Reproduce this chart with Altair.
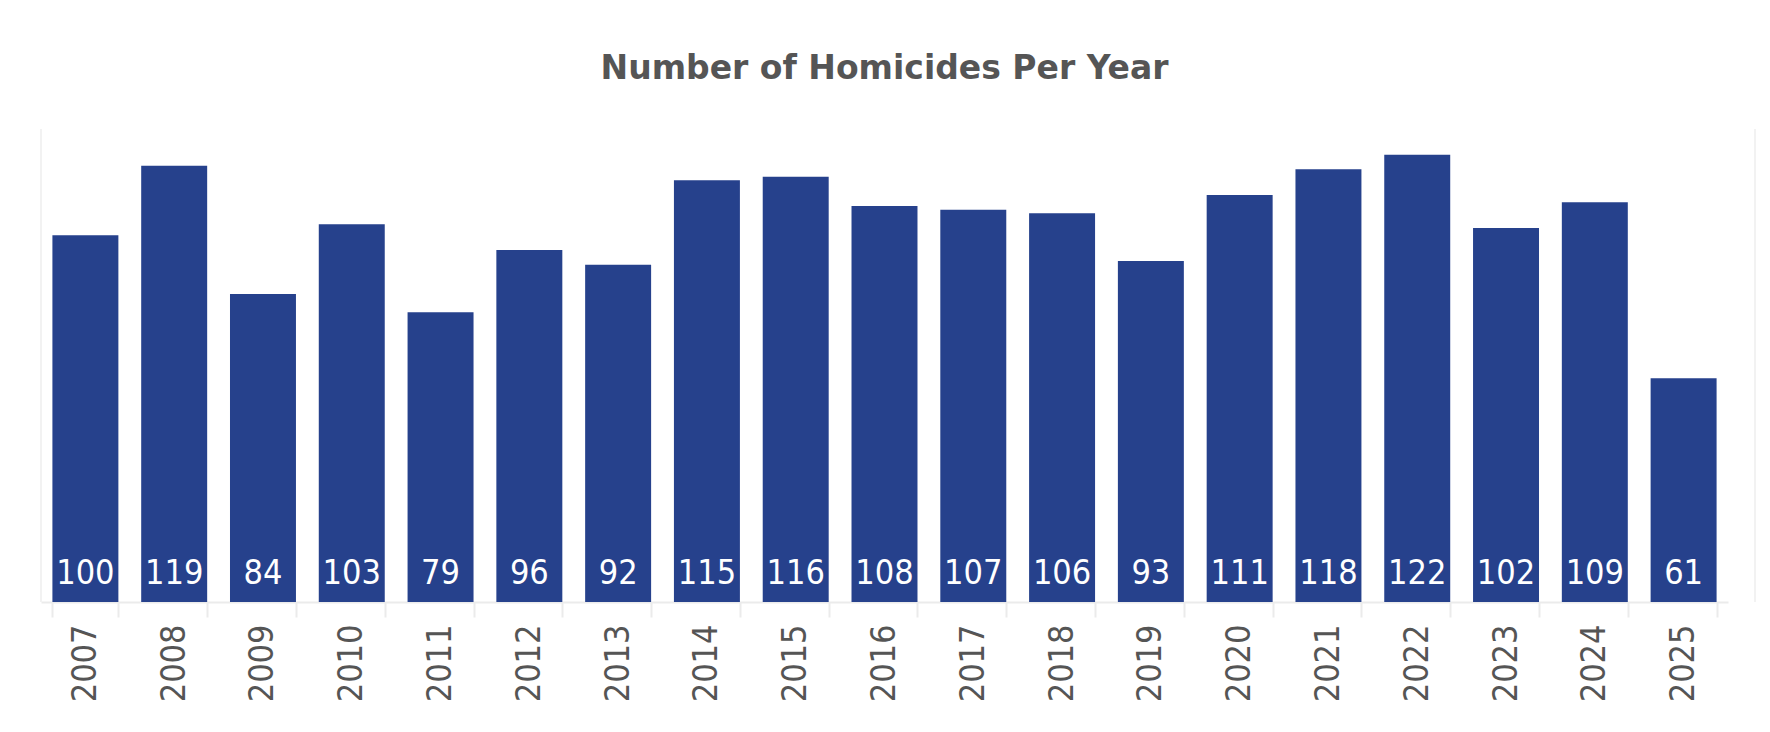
import altair as alt
import pandas as pd

years = ["2007", "2008", "2009", "2010", "2011", "2012", "2013", "2014", "2015", "2016",
         "2017", "2018", "2019", "2020", "2021", "2022", "2023", "2024", "2025"]
homicides = [100, 119, 84, 103, 79, 96, 92, 115, 116, 108,
             107, 106, 93, 111, 118, 122, 102, 109, 61]

df = pd.DataFrame({"Year": years, "Homicides": homicides})

W = 1687
H = 473
BAR = "#26418C"
GRAY_TXT = "#555555"
LINE = "#EBEBEB"
LABEL_FONT = "DejaVu Sans Condensed, DejaVu Sans"

xenc = alt.X(
    "Year:N",
    sort=years,
    title=None,
    scale=alt.Scale(paddingInner=0.257, paddingOuter=0.1285),
    axis=alt.Axis(
        labelAngle=-90,
        labelFont=LABEL_FONT,
        labelFontSize=34,
        labelColor=GRAY_TXT,
        labelPadding=7,
        tickBand="extent",
        tickSize=15,
        tickColor=LINE,
        tickWidth=2,
        domainColor=LINE,
        domainWidth=2,
        grid=False,
    ),
)
yscale = alt.Scale(domain=[0, 129], nice=False)

bars = alt.Chart(df).mark_bar(color=BAR).encode(
    x=xenc,
    y=alt.Y("Homicides:Q", scale=yscale, axis=None),
)

labels = alt.Chart(df).mark_text(
    color="white", font=LABEL_FONT, fontSize=34, baseline="alphabetic", align="center", dy=-18
).encode(
    x=alt.X("Year:N", sort=years),
    y=alt.YDatum(0, axis=None),
    text=alt.Text("Homicides:Q"),
)

frame_left = alt.Chart(df).mark_rule(color="#F2F2F2", strokeWidth=2).encode(
    x=alt.value(0), y=alt.value(0), y2=alt.value(H)
)
frame_right = alt.Chart(df).mark_rule(color="#F2F2F2", strokeWidth=2).encode(
    x=alt.value(W + 27), y=alt.value(0), y2=alt.value(H)
)

chart = alt.layer(frame_left, frame_right, bars, labels).properties(
    width=W,
    height=H,
    autosize=alt.AutoSizeParams(type="none"),
    padding={"left": 33, "top": 121, "right": 34, "bottom": 110},
    title=alt.TitleParams(
        "Number of Homicides Per Year",
        font="DejaVu Sans",
        fontSize=33,
        fontWeight="bold",
        color=GRAY_TXT,
        anchor="middle",
        offset=42,
    ),
).configure_view(stroke=None)

chart.save("out.html", embed_options={"renderer": "svg", "actions": False})
